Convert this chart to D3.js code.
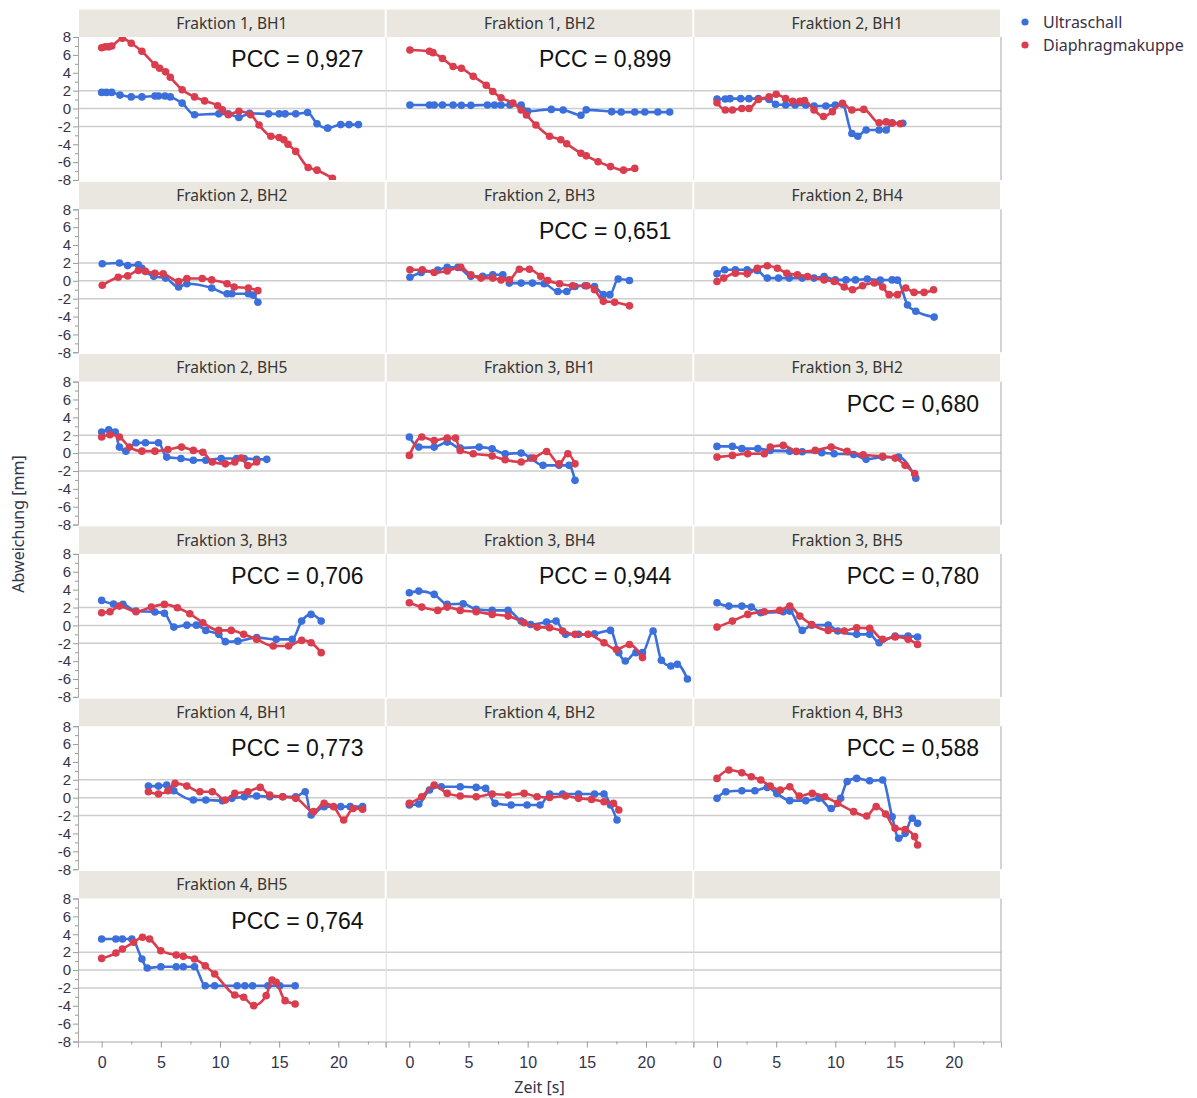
<!DOCTYPE html>
<html>
<head>
<meta charset="utf-8">
<script src="https://cdn.jsdelivr.net/npm/d3@7"></script>
<style>
  html, body { margin: 0; padding: 0; background: #fff; }
  svg { display: block; }
  text { font-family: "Noto Sans", "Open Sans", sans-serif; }
</style>
</head>
<body>
<div id="chart"></div>
<script>
// Panel titles (row-major, 3 columns) and correlation labels
const panelTitles = [
  "Fraktion 1, BH1", "Fraktion 1, BH2", "Fraktion 2, BH1",
  "Fraktion 2, BH2", "Fraktion 2, BH3", "Fraktion 2, BH4",
  "Fraktion 2, BH5", "Fraktion 3, BH1", "Fraktion 3, BH2",
  "Fraktion 3, BH3", "Fraktion 3, BH4", "Fraktion 3, BH5",
  "Fraktion 4, BH1", "Fraktion 4, BH2", "Fraktion 4, BH3",
  "Fraktion 4, BH5", "", ""
];
const pccLabels = [
  "PCC = 0,927", "PCC = 0,899", "",
  "", "PCC = 0,651", "",
  "", "", "PCC = 0,680",
  "PCC = 0,706", "PCC = 0,944", "PCC = 0,780",
  "PCC = 0,773", "", "PCC = 0,588",
  "PCC = 0,764", "", ""
];
const seriesNames = ["Ultraschall", "Diaphragmakuppe"];
const yTickValues = [-8, -6, -4, -2, 0, 2, 4, 6, 8];
const yMinorTicks = [-7, -5, -3, -1, 1, 3, 5, 7];
const xTickValues = [0, 5, 10, 15, 20];
const xMinorTicks = [2.5, 7.5, 12.5, 17.5, 22.5];
const gridValues = [2, 0, -2];

// [Zeit (s), Abweichung (mm)] per breath hold; us = Ultraschall, dk = Diaphragmakuppe
const us_F1BH1 = [[0,1.8],[0.4,1.8],[0.85,1.8],[1.55,1.5],[2.5,1.3],[3.4,1.3],[4.5,1.4],[4.8,1.4],[5.35,1.4],[5.8,1.3],[6.8,0.6],[7.85,-0.7],[9.9,-0.6],[10.7,-0.6],[11.6,-1.0],[12.5,-0.55],[14.1,-0.6],[15.0,-0.6],[15.5,-0.6],[16.4,-0.6],[17.4,-0.45],[18.2,-1.7],[19.1,-2.2],[20.2,-1.8],[20.9,-1.8],[21.7,-1.8]];
const dk_F1BH1 = [[0,6.8],[0.3,6.9],[0.6,6.9],[0.85,7.0],[1.75,7.85],[2.5,7.3],[3.4,6.4],[4.5,4.9],[4.9,4.5],[5.4,4.1],[5.8,3.5],[6.8,2.1],[7.85,1.3],[8.7,0.85],[9.8,0.3],[10.2,-0.15],[10.7,-0.7],[11.6,-0.3],[12.6,-0.7],[13.3,-1.85],[14.3,-3.1],[15.0,-3.25],[15.4,-3.5],[15.75,-4.0],[16.4,-4.8],[17.45,-6.6],[18.2,-6.9],[19.5,-7.8]];

const us_F1BH2 = [[0.05,0.4],[1.7,0.4],[2.1,0.4],[2.8,0.4],[3.7,0.4],[4.4,0.35],[5.2,0.35],[6.6,0.4],[7.2,0.4],[7.75,0.4],[8.5,0.4],[9.45,0.4],[10.0,-0.3],[12.0,-0.1],[13.0,-0.17],[14.5,-0.75],[14.95,-0.15],[17.1,-0.35],[17.9,-0.4],[19.05,-0.4],[19.9,-0.4],[21.0,-0.4],[22.0,-0.4]];
const dk_F1BH2 = [[0.05,6.55],[1.7,6.4],[2.0,6.25],[2.8,5.6],[3.7,4.7],[4.4,4.5],[5.4,3.6],[6.5,2.6],[7.05,1.9],[7.75,1.2],[8.75,0.6],[9.45,-0.17],[9.9,-0.73],[10.7,-1.85],[11.85,-3.1],[12.8,-3.5],[13.3,-3.95],[14.5,-5.0],[14.95,-5.3],[15.95,-5.95],[17.0,-6.5],[18.1,-6.9],[19.05,-6.7]];

const us_F2BH1 = [[0,1.06],[0.7,1.06],[1.1,1.1],[2.0,1.1],[2.7,1.1],[3.5,1.1],[4.4,1.0],[4.95,0.47],[5.8,0.4],[6.6,0.4],[7.5,0.4],[8.2,0.28],[9.2,0.28],[10.0,0.4],[10.6,0.47],[11.4,-2.8],[11.9,-3.1],[12.6,-2.4],[13.7,-2.4],[14.3,-2.4],[14.8,-1.6],[15.7,-1.65]];
const dk_F2BH1 = [[0,0.65],[0.7,-0.17],[1.3,-0.17],[2.1,0.0],[2.7,0.0],[3.5,1.0],[4.4,1.3],[5.0,1.6],[5.8,1.1],[6.4,0.8],[7.0,0.8],[7.4,0.9],[8.2,-0.17],[9.0,-0.9],[9.75,-0.35],[10.6,0.58],[11.4,-0.17],[12.4,-0.1],[13.7,-1.6],[14.3,-1.5],[14.8,-1.65],[15.5,-1.7]];

const us_F2BH2 = [[0.05,1.9],[1.5,2.0],[2.2,1.7],[3.1,1.8],[3.4,1.4],[4.4,0.5],[5.4,0.3],[6.5,-0.7],[7.2,-0.33],[9.3,-0.8],[10.6,-1.45],[11.0,-1.45],[12.4,-1.45],[12.8,-1.6],[13.2,-2.4]];
const dk_F2BH2 = [[0.05,-0.5],[1.4,0.4],[2.2,0.55],[3.1,1.15],[3.7,1.05],[4.5,0.85],[5.2,0.78],[6.5,-0.07],[7.2,0.25],[8.5,0.25],[9.3,0.1],[10.6,-0.33],[11.2,-0.7],[12.4,-0.8],[13.2,-1.1]];

const us_F2BH3 = [[0.05,0.4],[1.0,0.93],[2.4,1.2],[3.2,1.5],[4.1,1.5],[5.2,0.5],[6.2,0.5],[7.05,0.67],[7.9,0.67],[8.45,-0.26],[9.45,-0.26],[10.4,-0.26],[11.4,-0.33],[12.55,-1.2],[13.3,-1.2],[14.0,-0.63],[14.85,-0.55],[15.65,-0.63],[16.4,-1.55],[16.95,-1.55],[17.65,0.2],[18.6,0.03]];
const dk_F2BH3 = [[0.05,1.23],[1.1,1.23],[2.1,0.93],[3.2,1.1],[4.35,1.5],[5.2,0.67],[6.05,0.3],[7.05,0.3],[7.75,0.1],[8.45,0.1],[9.3,1.3],[10.15,1.3],[11.1,0.5],[11.7,0.03],[12.7,-0.33],[13.8,-0.55],[15.0,-0.55],[15.65,-1.0],[16.4,-2.3],[17.35,-2.4],[18.6,-2.8]];

const us_F2BH4 = [[0,0.78],[0.65,1.23],[1.55,1.23],[2.55,1.23],[3.4,1.15],[4.25,0.3],[5.2,0.3],[6.1,0.3],[7.2,0.3],[8.2,0.3],[9.05,0.48],[10.0,0.1],[10.9,0.1],[11.7,0.1],[12.7,0.2],[13.8,0.07],[14.8,0.1],[15.25,0.07],[16.1,-2.7],[16.8,-3.4],[18.35,-4.06]];
const dk_F2BH4 = [[0,-0.07],[0.57,0.3],[1.55,0.85],[2.55,0.78],[3.4,1.4],[4.25,1.68],[5.1,1.4],[5.9,0.85],[6.8,0.67],[7.65,0.48],[9.05,0.1],[9.9,-0.07],[10.75,-0.7],[11.45,-1.0],[12.3,-0.55],[13.3,-0.25],[14.0,-0.7],[14.55,-1.55],[15.25,-1.55],[15.95,-0.8],[16.65,-1.3],[17.5,-1.3],[18.3,-1.0]];

const us_F2BH5 = [[0,2.35],[0.6,2.6],[1.15,2.35],[1.5,0.67],[2.05,0.22],[2.9,1.15],[3.7,1.15],[4.8,1.15],[5.5,-0.45],[6.7,-0.6],[7.75,-0.8],[8.8,-0.8],[10.1,-0.6],[11.4,-0.6],[12.05,-0.6],[13.1,-0.7],[13.95,-0.7]];
const dk_F2BH5 = [[0,1.8],[0.7,2.05],[1.5,1.8],[2.35,0.67],[3.4,0.22],[4.5,0.22],[5.6,0.4],[6.75,0.67],[7.75,0.3],[8.55,0.1],[9.35,-1.0],[10.45,-1.2],[11.25,-1.0],[11.8,-0.55],[12.35,-1.4],[13.1,-1.0]];

const us_F3BH1 = [[0,1.8],[0.8,0.67],[2.1,0.67],[3.2,1.23],[4.3,0.56],[5.9,0.67],[7.0,0.48],[8.1,-0.07],[9.45,0.0],[10.25,-0.56],[11.3,-1.37],[12.65,-1.37],[13.5,-1.37],[14.0,-3.05]];
const dk_F3BH1 = [[0,-0.26],[1.05,1.8],[2.1,1.4],[3.2,1.68],[3.9,1.68],[4.3,0.3],[5.4,-0.07],[7.0,-0.33],[8.1,-0.74],[9.45,-1.0],[10.5,-0.56],[11.6,0.18],[12.65,-1.2],[13.4,-0.07],[14.0,-1.2]];

const us_F3BH2 = [[0,0.75],[1.3,0.75],[2.1,0.5],[3.45,0.5],[4.5,0.3],[6.15,0.22],[7.2,0.15],[8.85,0.05],[9.9,-0.07],[11.55,-0.15],[12.6,-0.7],[14.0,-0.45],[15.35,-0.45],[16.8,-2.8]];
const dk_F3BH2 = [[0,-0.45],[1.3,-0.26],[2.6,-0.07],[4.0,-0.07],[4.5,0.67],[5.6,0.86],[6.7,0.19],[8.3,0.3],[9.65,0.67],[11.0,0.19],[12.35,-0.18],[14.0,-0.37],[15.05,-0.56],[15.9,-1.37],[16.7,-2.3]];

const us_F3BH3 = [[0,2.8],[1.0,2.4],[1.8,2.35],[2.9,1.6],[4.5,1.5],[5.3,1.35],[6.1,-0.19],[7.2,0.03],[8.0,0.03],[8.8,-0.56],[9.9,-1.0],[10.45,-1.82],[11.5,-1.76],[13.1,-1.37],[14.75,-1.56],[16.1,-1.56],[16.9,0.48],[17.7,1.23],[18.55,0.48]];
const dk_F3BH3 = [[0,1.42],[0.7,1.53],[1.5,2.16],[2.9,1.53],[4.2,2.05],[5.3,2.35],[6.4,1.98],[7.45,1.3],[8.55,0.3],[9.9,-0.56],[10.95,-0.56],[12.0,-1.0],[13.1,-1.56],[14.5,-2.3],[15.8,-2.3],[16.9,-1.68],[17.7,-1.94],[18.55,-3.05]];

const us_F3BH4 = [[0,3.66],[0.8,3.84],[2.1,3.47],[3.2,2.35],[4.55,2.43],[5.65,1.8],[7.0,1.68],[8.35,1.68],[9.45,0.48],[10.25,0.1],[11.6,0.37],[12.4,0.48],[13.2,-1.0],[14.3,-1.0],[15.65,-0.93],[17.0,-0.56],[17.7,-3.05],[18.25,-3.99],[19.15,-3.05],[19.7,-3.05],[20.6,-0.63],[21.3,-3.9],[22.1,-4.55],[22.65,-4.36],[23.5,-6.0]];
const dk_F3BH4 = [[0,2.54],[1.05,2.05],[2.4,1.68],[3.2,2.05],[4.3,1.68],[5.65,1.53],[7.0,1.23],[8.35,1.04],[9.7,0.3],[10.8,-0.19],[11.85,-0.26],[12.95,-0.63],[14.0,-1.0],[15.1,-1.0],[16.45,-1.94],[17.5,-2.7],[18.6,-2.13],[19.7,-3.6]];

const us_F3BH5 = [[0,2.54],[1.0,2.16],[2.1,2.16],[2.9,2.05],[3.7,1.42],[5.6,1.53],[6.15,1.6],[7.2,-0.56],[8.0,0.03],[9.4,0.03],[10.2,-0.63],[11.8,-1.0],[12.9,-1.0],[13.7,-1.94],[15.05,-1.2],[16.15,-1.2],[16.95,-1.3]];
const dk_F3BH5 = [[0,-0.19],[1.3,0.48],[2.6,1.23],[4.0,1.53],[5.3,1.68],[6.15,2.16],[7.0,1.04],[8.0,0.1],[9.4,-0.56],[10.75,-0.63],[11.8,-0.26],[12.9,-0.33],[14.0,-1.56],[15.05,-1.3],[16.15,-1.56],[16.95,-2.13]];

const us_F4BH1 = [[3.95,1.3],[4.8,1.3],[5.5,1.42],[6.1,0.78],[7.75,-0.26],[8.8,-0.26],[10.2,-0.33],[11.0,-0.07],[12.05,0.1],[13.1,0.19],[14.2,0.1],[15.3,0.1],[16.4,0.1],[17.2,0.67],[17.7,-1.94],[18.8,-1.0],[20.2,-1.0],[21.0,-1.0],[22.05,-1.0]];
const dk_F4BH1 = [[3.95,0.67],[4.8,0.41],[5.6,0.78],[6.2,1.6],[7.2,1.3],[8.3,0.67],[9.35,0.67],[10.45,-0.26],[11.25,0.48],[12.35,0.67],[13.4,1.15],[14.2,0.3],[15.3,0.1],[16.4,-0.07],[17.9,-1.56],[18.8,-0.63],[19.6,-1.0],[20.45,-2.5],[21.25,-1.2],[22.05,-1.3]];

const us_F4BH2 = [[0,-0.82],[0.8,-0.7],[1.7,0.86],[2.7,1.23],[4.3,1.23],[5.65,1.15],[6.45,1.04],[7.25,-0.63],[8.6,-0.82],[9.95,-0.82],[11.05,-0.82],[11.85,0.41],[12.95,0.41],[14.3,0.41],[15.65,0.41],[16.45,0.41],[17.0,-0.82],[17.55,-2.5]];
const dk_F4BH2 = [[0,-0.63],[1.05,0.1],[2.1,1.42],[3.2,0.48],[4.3,0.19],[5.65,0.1],[7.0,0.41],[8.35,0.3],[9.7,0.48],[10.8,0.1],[11.85,0.03],[13.2,0.19],[14.3,-0.07],[15.4,-0.19],[16.45,-0.45],[17.25,-0.63],[17.7,-1.37]];

const us_F4BH3 = [[0,-0.07],[0.75,0.67],[2.1,0.78],[3.2,0.78],[4.25,1.15],[5.05,0.48],[6.15,-0.33],[7.5,-0.33],[8.6,-0.07],[9.65,-1.2],[10.45,-0.07],[11.0,1.8],[11.8,2.16],[12.9,1.9],[14.0,1.98],[14.8,-2.13],[15.35,-4.55],[15.9,-3.99],[16.5,-2.3],[16.95,-2.87]];
const dk_F4BH3 = [[0,2.16],[1.0,3.1],[2.1,2.8],[2.9,2.35],[3.7,1.98],[4.5,1.3],[5.35,0.86],[6.15,1.23],[6.95,0.19],[8.05,0.48],[9.1,0.1],[10.2,-0.63],[11.55,-1.56],[12.65,-2.05],[13.45,-1.0],[14.25,-1.82],[15.05,-3.43],[15.9,-3.55],[16.7,-4.36],[16.95,-5.3]];

const us_F4BH5 = [[0,3.47],[1.2,3.47],[1.75,3.47],[2.55,3.47],[3.4,1.23],[3.85,0.22],[5.0,0.37],[6.3,0.37],[6.9,0.37],[7.85,0.37],[8.75,-1.76],[9.55,-1.76],[11.45,-1.76],[12.1,-1.76],[12.75,-1.76],[14.05,-1.76],[15.05,-1.76],[16.35,-1.76]];
const dk_F4BH5 = [[0,1.3],[1.2,1.9],[1.75,2.35],[2.7,3.1],[3.45,3.66],[4.05,3.47],[5.0,2.16],[6.3,1.68],[6.9,1.53],[7.85,1.23],[8.75,0.48],[9.55,-0.45],[11.25,-2.8],[12.0,-3.05],[12.85,-3.99],[13.9,-2.87],[14.4,-1.12],[14.75,-1.37],[15.5,-3.43],[16.35,-3.8]];

const ultraschallSeries = [us_F1BH1, us_F1BH2, us_F2BH1, us_F2BH2, us_F2BH3, us_F2BH4, us_F2BH5, us_F3BH1, us_F3BH2, us_F3BH3, us_F3BH4, us_F3BH5, us_F4BH1, us_F4BH2, us_F4BH3, us_F4BH5, [], []];
const kuppeSeries = [dk_F1BH1, dk_F1BH2, dk_F2BH1, dk_F2BH2, dk_F2BH3, dk_F2BH4, dk_F2BH5, dk_F3BH1, dk_F3BH2, dk_F3BH3, dk_F3BH4, dk_F3BH5, dk_F4BH1, dk_F4BH2, dk_F4BH3, dk_F4BH5, [], []];

// Layout
const W = 1197, H = 1098;
const gridLeft = 78, colW = 307.67, nCols = 3, nRows = 6;
const rowStep = 172.3, headerTop0 = 9.5, headerH = 27.5, plotTop0 = 37, plotH = 143;
const colors = ["#3b6fdb", "#d93d4e"];
const tickFont = "'Liberation Sans', Arial, sans-serif";

const svg = d3.select("#chart").append("svg").attr("width", W).attr("height", H);

const x = d3.scaleLinear().domain([-2, 24]).range([0, colW]);
const y = d3.scaleLinear().domain([-8, 8]).range([plotH, 0]);

const line = d3.line().x(d => x(d[0])).y(d => y(d[1])).curve(d3.curveMonotoneX);

svg.append("defs").append("clipPath").attr("id", "plotclip")
  .append("rect").attr("x", 0).attr("y", 0).attr("width", colW).attr("height", plotH);

panelTitles.forEach((title, i) => {
  const row = Math.floor(i / nCols), col = i % nCols;
  const left = gridLeft + col * colW;
  const hTop = headerTop0 + row * rowStep;
  const pTop = plotTop0 + row * rowStep;

  // strip header
  svg.append("rect").attr("x", left + 1).attr("y", hTop).attr("width", colW - 2).attr("height", headerH)
    .attr("fill", "#e9e7df");
  if (title) {
    svg.append("text").attr("x", left + colW / 2).attr("y", hTop + headerH / 2).attr("dy", "0.36em")
      .attr("text-anchor", "middle").attr("font-size", 15.5).attr("fill", "#353535").text(title);
  }

  const g = svg.append("g").attr("transform", `translate(${left},${pTop})`);

  // reference lines
  g.selectAll("line.grid").data(gridValues).join("line").attr("class", "grid")
    .attr("x1", 0).attr("x2", colW).attr("y1", d => y(d)).attr("y2", d => y(d))
    .attr("stroke", "#cdcdcd").attr("stroke-width", 1.5);

  // panel separators
  g.append("line").attr("x1", 0.5).attr("x2", 0.5).attr("y1", 0).attr("y2", plotH)
    .attr("stroke", col === 0 ? "#a8a8a8" : "#dcdcdc").attr("stroke-width", 1);
  if (col === nCols - 1) {
    g.append("line").attr("x1", colW).attr("x2", colW).attr("y1", 0).attr("y2", plotH)
      .attr("stroke", "#a8a8a8").attr("stroke-width", 1);
  }

  // data
  const pg = g.append("g").attr("clip-path", "url(#plotclip)");
  [ultraschallSeries[i], kuppeSeries[i]].forEach((data, s) => {
    if (!data.length) return;
    pg.append("path").datum(data).attr("d", line).attr("fill", "none")
      .attr("stroke", colors[s]).attr("stroke-width", 2.6).attr("stroke-linejoin", "round");
    pg.selectAll(null).data(data).join("circle")
      .attr("cx", d => x(d[0])).attr("cy", d => y(d[1])).attr("r", 3.8).attr("fill", colors[s]);
  });

  if (pccLabels[i]) {
    g.append("text").attr("x", colW - 22).attr("y", 30).attr("text-anchor", "end")
      .style("font-family", tickFont).attr("font-size", 23)
      .attr("fill", "#111").text(pccLabels[i]);
  }

  // y axis on the first column
  if (col === 0) {
    const ya = g.append("g").call(d3.axisLeft(y).tickValues(yTickValues).tickSize(5).tickFormat(d => String(d)));
    ya.select(".domain").attr("stroke", "#a8a8a8");
    ya.selectAll(".tick line").attr("stroke", "#9a9a9a");
    ya.selectAll(".tick text").attr("font-size", 15).attr("fill", "#34344a").attr("x", -7)
      .style("font-family", tickFont);
    const ym = g.append("g").call(d3.axisLeft(y).tickValues(yMinorTicks).tickSize(3).tickFormat(""));
    ym.select(".domain").remove();
    ym.selectAll(".tick line").attr("stroke", "#9a9a9a");
  }

  // x axis on the bottom row
  if (row === nRows - 1) {
    const xa = g.append("g").attr("transform", `translate(0,${plotH})`)
      .call(d3.axisBottom(x).tickValues(xTickValues).tickSize(6).tickFormat(d => String(d)));
    xa.select(".domain").attr("stroke", "#a8a8a8");
    xa.selectAll(".tick line").attr("stroke", "#9a9a9a");
    xa.selectAll(".tick text").attr("font-size", 16).attr("fill", "#34344a").attr("y", 15)
      .style("font-family", tickFont);
    const xm = g.append("g").attr("transform", `translate(0,${plotH})`)
      .call(d3.axisBottom(x).tickValues(xMinorTicks).tickSize(3).tickFormat(""));
    xm.select(".domain").remove();
    xm.selectAll(".tick line").attr("stroke", "#9a9a9a");
  }
});

// axis titles
svg.append("text").attr("transform", "translate(24,524) rotate(-90)").attr("text-anchor", "middle")
  .attr("font-size", 16).attr("fill", "#34344a").text("Abweichung [mm]");
svg.append("text").attr("x", gridLeft + colW * 1.5).attr("y", 1093).attr("text-anchor", "middle")
  .attr("font-size", 16).attr("fill", "#34344a").text("Zeit [s]");

// legend
const legend = svg.append("g").attr("transform", "translate(1025,22)");
seriesNames.forEach((name, s) => {
  const lg = legend.append("g").attr("transform", `translate(0,${s * 23})`);
  lg.append("circle").attr("r", 3.6).attr("fill", colors[s]);
  lg.append("text").attr("x", 18).attr("dy", "0.36em").attr("font-size", 16)
    .attr("fill", "#3a3148").text(name);
});
</script>
</body>
</html>
